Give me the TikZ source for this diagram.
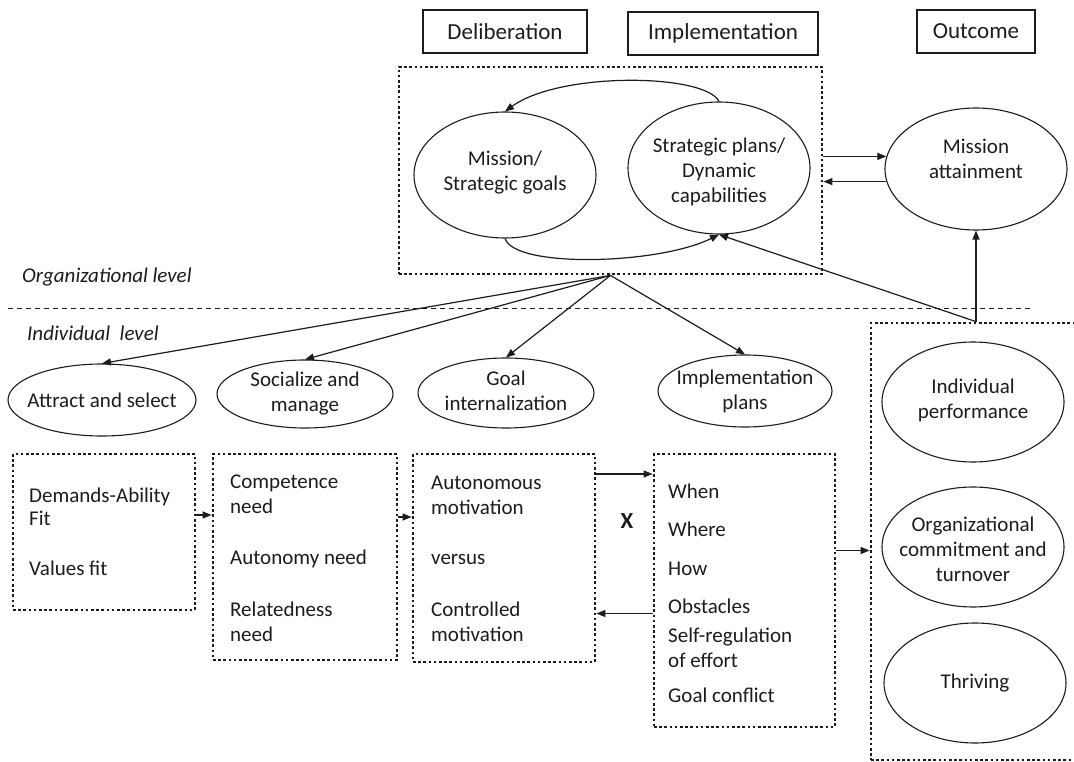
\documentclass[tikz,border=0pt]{standalone}
\usepackage{fontspec}
\setmainfont{Carlito}
\usetikzlibrary{arrows.meta,shapes.geometric,calc}
\definecolor{ink}{RGB}{30,27,28}
\begin{document}
\begin{tikzpicture}[x=1pt,y=-1pt,
  every node/.style={text=ink, font=\fontsize{21}{25}\selectfont},
  ell/.style={draw=ink, line width=1.1pt, ellipse, inner sep=0pt},
  hdr/.style={draw=ink, line width=1.5pt, rectangle, inner sep=0pt, font=\fontsize{23}{27}\selectfont},
  dotbox/.style={draw=ink, line width=2.8pt, dash pattern=on 2.6pt off 2.6pt, rectangle, inner sep=0pt},
  arr/.style={draw=ink, line width=1.2pt, -{Triangle[length=9pt,width=7pt]}},
  lbl/.style={anchor=base west, inner sep=0pt},
  midtext/.style={align=center, font=\fontsize{21}{25}\selectfont},
]
\useasboundingbox (0,0) rectangle (1074,762);

% header boxes
\node[hdr, minimum width=164pt, minimum height=43pt] (delib) at (505,31.5) {Deliberation};
\node[hdr, minimum width=190pt, minimum height=43pt] (impl) at (723,33.5) {Implementation};
\node[hdr, minimum width=118pt, minimum height=43pt] (outc) at (976,31.5) {Outcome};

% organizational box
\node[dotbox, minimum width=423pt, minimum height=207pt] (bigbox) at (610.5,170.5) {};
\node[ell, minimum width=182pt, minimum height=126pt,
  label={[midtext, yshift=2pt]center:Mission/\\Strategic goals}] (mission) at (505,175) {};
\node[ell, minimum width=182pt, minimum height=132pt,
  label={[midtext, yshift=-4pt]center:Strategic plans/\\Dynamic\\capabilities}] (strat) at (719,168) {};
\node[ell, minimum width=182pt, minimum height=122pt,
  label={[midtext, yshift=10pt]center:Mission\\attainment}] (mattain) at (976,169) {};

\draw[arr] (strat.north) .. controls +(-14,-28) and +(55,-40) .. (mission.north);
\draw[arr] (mission.south) .. controls +(10,30) and +(-60,30) .. (strat.south);
\draw[arr] (bigbox.east |- mattain.172) -- (mattain.172);
\draw[arr] (mattain.188) -- (bigbox.east |- mattain.188);

% levels
\node[lbl, font=\fontsize{21}{25}\selectfont\itshape] (orglvl) at (22,283) {Organizational level};
\draw[ink, line width=0.9pt, dash pattern=on 5pt off 4pt] (8,308) -- (1030,308);
\node[lbl, font=\fontsize{21}{25}\selectfont\itshape] (indlvl) at (27,340) {Individual\ \ level};

% individual ellipses
\node[ell, minimum width=188pt, minimum height=72pt,
  label={[midtext]center:Attract and select}] (attract) at (102,400) {};
\node[ell, minimum width=176pt, minimum height=68pt,
  label={[midtext]center:Socialize and\\manage}] (social) at (305,394) {};
\node[ell, minimum width=176pt, minimum height=70pt,
  label={[midtext, yshift=2pt]center:Goal\\internalization}] (goal) at (506,393) {};
\node[ell, minimum width=174pt, minimum height=72pt,
  label={[midtext]center:Implementation\\plans}] (implp) at (745,391) {};

\draw[arr] (bigbox.south) -- (attract.north);
\draw[arr] (bigbox.south) -- (social.north);
\draw[arr] (bigbox.south) -- (goal.north);
\draw[arr] (bigbox.south) -- (implp.north);

% process boxes
\node[dotbox, minimum width=182pt, minimum height=156pt] (box1) at (104,532) {};
\node[dotbox, minimum width=184pt, minimum height=206pt] (box2) at (305,557) {};
\node[dotbox, minimum width=182pt, minimum height=208pt] (box3) at (504,558) {};
\node[dotbox, minimum width=181pt, minimum height=273pt] (box4) at (744.5,590.5) {};

\foreach \s/\yy [count=\i] in {Demands-Ability/502, Fit/525, Values fit/575}
  \node[lbl] (bxa\i) at (29,\yy) {\s};
\foreach \s/\yy [count=\i] in {Competence/488, need/513, Autonomy need/564, Relatedness/616, need/641}
  \node[lbl] (bxb\i) at (230,\yy) {\s};
\foreach \s/\yy [count=\i] in {Autonomous/489, motivation/514, versus/564, Controlled/616, motivation/641}
  \node[lbl] (bxc\i) at (431,\yy) {\s};
\foreach \s/\yy [count=\i] in {When/498, Where/536, How/575, Obstacles/613, Self-regulation/642, of effort/667, Goal conflict/702}
  \node[lbl] (bxd\i) at (668,\yy) {\s};

\node[font=\fontsize{23}{27}\selectfont\bfseries] (xmark) at (627,521) {X};

\draw[arr] ([yshift=17pt]box1.east) -- ([yshift=17pt]box1.east -| box2.west);
\draw[arr] ([yshift=40pt]box2.east) -- ([yshift=40pt]box2.east -| box3.west);
\draw[arr] ([yshift=84pt]box3.east) -- ([yshift=84pt]box3.east -| box4.west);
\draw[arr] ([yshift=-23pt]box4.west) -- ([yshift=-23pt]box4.west -| box3.east);

% outcome box
\node[dotbox, minimum width=219pt, minimum height=437pt] (outbox) at (980.5,541.5) {};
\node[ell, minimum width=182pt, minimum height=120pt,
  label={[midtext, yshift=2pt]center:Individual\\performance}] (indperf) at (973,402) {};
\node[ell, minimum width=182pt, minimum height=120pt,
  label={[midtext, yshift=-2pt]center:Organizational\\commitment and\\turnover}] (orgcom) at (973,547) {};
\node[ell, minimum width=182pt, minimum height=120pt,
  label={[midtext]center:Thriving}] (thriv) at (975,683) {};

\draw[arr] ([yshift=40pt]box4.east) -- ([yshift=40pt]box4.east -| outbox.west);
\draw[arr] (mattain.south |- outbox.north) -- (mattain.south);
\draw[arr] (mattain.south |- outbox.north) -- (strat.south);
\end{tikzpicture}
\end{document}
